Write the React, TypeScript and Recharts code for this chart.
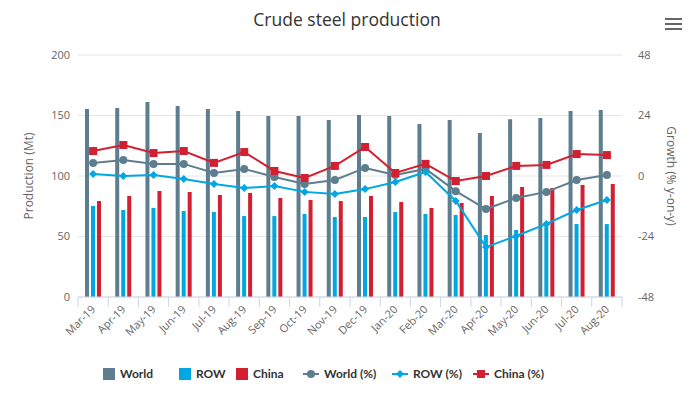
import React from 'react';
import { ComposedChart, Bar, Line, XAxis, YAxis, CartesianGrid, Legend } from 'recharts';

const months = ['Mar-19', 'Apr-19', 'May-19', 'Jun-19', 'Jul-19', 'Aug-19', 'Sep-19', 'Oct-19', 'Nov-19', 'Dec-19', 'Jan-20', 'Feb-20', 'Mar-20', 'Apr-20', 'May-20', 'Jun-20', 'Jul-20', 'Aug-20'];
const world = [155.4, 156.2, 161.2, 157.9, 155.4, 153.7, 149.6, 149.6, 146.3, 150.4, 149.6, 143.0, 146.3, 135.5, 147.0, 147.9, 153.7, 154.5];
const row = [75.2, 71.9, 73.6, 71.1, 70.2, 66.9, 66.9, 68.6, 66.1, 66.1, 70.2, 68.6, 67.8, 51.2, 55.4, 58.5, 60.3, 60.3];
const china = [79.3, 83.5, 87.6, 86.8, 84.3, 86.0, 81.8, 80.2, 79.3, 83.5, 78.5, 73.6, 77.7, 83.5, 90.9, 90.1, 92.6, 93.4];
const worldPct = [5.2, 6.3, 4.8, 4.8, 1.2, 2.8, -0.4, -3.2, -1.6, 3.2, 0.4, 2.8, -6.0, -13.1, -8.7, -6.3, -1.6, 0.4];
const rowPct = [0.8, 0.0, 0.4, -1.2, -3.2, -4.8, -4.0, -6.3, -7.1, -5.2, -2.4, 1.6, -9.9, -28.2, -23.8, -19.0, -13.5, -9.5];
const chinaPct = [9.9, 12.3, 9.1, 9.9, 5.2, 9.5, 2.0, -0.8, 4.0, 11.5, 1.2, 4.8, -2.0, 0.0, 4.0, 4.4, 8.7, 8.3];

const leftTicks = [0, 50, 100, 150, 200];
const rightTicks = [-48, -24, 0, 24, 48];

const data = months.map((m, i) => ({
  month: m,
  world: world[i],
  row: row[i],
  china: china[i],
  worldPct: worldPct[i],
  rowPct: rowPct[i],
  chinaPct: chinaPct[i],
}));

const WORLD = '#5e7e8f';
const ROW = '#00a7e1';
const CHINA = '#d21f31';
const FONT = '"Open Sans", "DejaVu Sans", sans-serif';
const LEGEND_FONT = 'Lato, "Open Sans", sans-serif';

const W = 694;
const H = 393;
const LEFT_W = 78;
const RIGHT_W = 72;
const BAND = (W - LEFT_W - RIGHT_W) / months.length;

const XTick = (props: any) => {
  const { x, y, payload, index } = props;
  const top = y - 10;
  const lx = x + 3;
  const ly = top + 13;
  return (
    <g>
      <line x1={x - BAND / 2} x2={x - BAND / 2} y1={top} y2={top + 10} stroke="#ccd6eb" />
      {index === months.length - 1 && (
        <line x1={x + BAND / 2} x2={x + BAND / 2} y1={top} y2={top + 10} stroke="#ccd6eb" />
      )}
      <text x={lx} y={ly} transform={`rotate(-45 ${lx} ${ly})`} textAnchor="end" fill="#666" fontSize={11} fontFamily={FONT}>
        {payload.value}
      </text>
    </g>
  );
};

const ChinaDot = (props: any) => {
  const { cx, cy, index } = props;
  return <rect key={`c${index}`} x={cx - 4} y={cy - 4} width={8} height={8} fill={CHINA} />;
};

const RowDot = (props: any) => {
  const { cx, cy, index } = props;
  return <path key={`r${index}`} d={`M${cx},${cy - 4}L${cx + 4},${cy}L${cx},${cy + 4}L${cx - 4},${cy}Z`} fill={ROW} />;
};

// legend entries; widths are the slot each entry takes in the row
const legendItems = [
  { name: 'World', color: WORLD, kind: 'bar', slot: 76 },
  { name: 'ROW', color: ROW, kind: 'bar', slot: 57 },
  { name: 'China', color: CHINA, kind: 'bar', slot: 67 },
  { name: 'World (%)', color: WORLD, kind: 'circle', slot: 89 },
  { name: 'ROW (%)', color: ROW, kind: 'diamond', slot: 81 },
  { name: 'China (%)', color: CHINA, kind: 'square', slot: 80 },
];

const LegendSymbol = ({ kind, color }: { kind: string; color: string }) => {
  if (kind === 'bar') {
    return (
      <svg width={12} height={12} style={{ display: 'block' }}>
        <rect x={0} y={0} width={12} height={12} fill={color} />
      </svg>
    );
  }
  return (
    <svg width={16} height={12} style={{ display: 'block' }}>
      <line x1={0} x2={16} y1={6} y2={6} stroke={color} strokeWidth={2} />
      {kind === 'circle' && <circle cx={8} cy={6} r={4} fill={color} />}
      {kind === 'diamond' && <path d="M8,2L12,6L8,10L4,6Z" fill={color} />}
      {kind === 'square' && <rect x={4} y={2} width={8} height={8} fill={color} />}
    </svg>
  );
};

const renderLegend = () => (
  <div style={{ display: 'flex', alignItems: 'center', fontFamily: LEGEND_FONT, fontSize: 12, fontWeight: 'bold', color: '#333', whiteSpace: 'nowrap' }}>
    {legendItems.map((it) => (
      <div key={it.name} style={{ display: 'flex', alignItems: 'center', width: it.slot }}>
        <LegendSymbol kind={it.kind} color={it.color} />
        <span style={{ marginLeft: 5 }}>{it.name}</span>
      </div>
    ))}
  </div>
);

export default function App() {
  return (
    <div style={{ position: 'relative', width: W, height: H, background: '#fff', fontFamily: FONT }}>
      <style>{'body{margin:0}'}</style>
      <div style={{ position: 'absolute', top: 7, left: 0, width: W, textAlign: 'center', fontSize: 17.5, color: '#333' }}>
        Crude steel production
      </div>
      <svg width={18} height={14} style={{ position: 'absolute', left: 665, top: 17 }}>
        <rect x={0} y={1} width={17} height={2} fill="#666" />
        <rect x={0} y={6} width={17} height={2} fill="#666" />
        <rect x={0} y={11} width={17} height={2} fill="#666" />
      </svg>
      <ComposedChart
        width={W}
        height={H}
        data={data}
        margin={{ top: 55, right: 0, left: 0, bottom: 36 }}
        barSize={4}
        barGap={2}
        style={{ position: 'absolute', top: 0, left: 0 }}
      >
        <CartesianGrid yAxisId="left" vertical={false} stroke="#e6e6e6" />
        <XAxis
          dataKey="month"
          interval={0}
          height={60}
          axisLine={{ stroke: '#ccd6eb' }}
          tickLine={false}
          tickSize={10}
          tickMargin={0}
          tick={<XTick />}
        />
        <YAxis
          yAxisId="left"
          width={LEFT_W}
          domain={[0, 200]}
          ticks={leftTicks}
          axisLine={false}
          tickLine={false}
          tick={{ fill: '#666', fontSize: 11, fontFamily: FONT }}
          label={{ value: 'Production (Mt)', angle: -90, position: 'center', dx: -10, fill: '#666', fontSize: 12, fontFamily: FONT }}
        />
        <YAxis
          yAxisId="right"
          orientation="right"
          width={RIGHT_W}
          domain={[-48, 48]}
          ticks={rightTicks}
          axisLine={false}
          tickLine={false}
          tickMargin={10}
          tick={{ fill: '#666', fontSize: 11, fontFamily: FONT, textAnchor: 'start' }}
          label={{ value: 'Growth (% y-on-y)', angle: 90, position: 'center', dx: 13, fill: '#666', fontSize: 12, fontFamily: FONT }}
        />
        <Bar yAxisId="left" dataKey="world" name="World" fill={WORLD} isAnimationActive={false} />
        <Bar yAxisId="left" dataKey="row" name="ROW" fill={ROW} isAnimationActive={false} />
        <Bar yAxisId="left" dataKey="china" name="China" fill={CHINA} isAnimationActive={false} />
        <Line yAxisId="right" dataKey="worldPct" name="World (%)" stroke={WORLD} strokeWidth={2} dot={{ r: 4, fill: WORLD, stroke: 'none' }} isAnimationActive={false} />
        <Line yAxisId="right" dataKey="rowPct" name="ROW (%)" stroke={ROW} strokeWidth={2} dot={<RowDot />} isAnimationActive={false} />
        <Line yAxisId="right" dataKey="chinaPct" name="China (%)" stroke={CHINA} strokeWidth={2} dot={<ChinaDot />} isAnimationActive={false} />
        <Legend
          layout="horizontal"
          verticalAlign="middle"
          align="center"
          content={renderLegend}
          wrapperStyle={{ top: 366, left: 103, width: 'auto' }}
        />
      </ComposedChart>
    </div>
  );
}
